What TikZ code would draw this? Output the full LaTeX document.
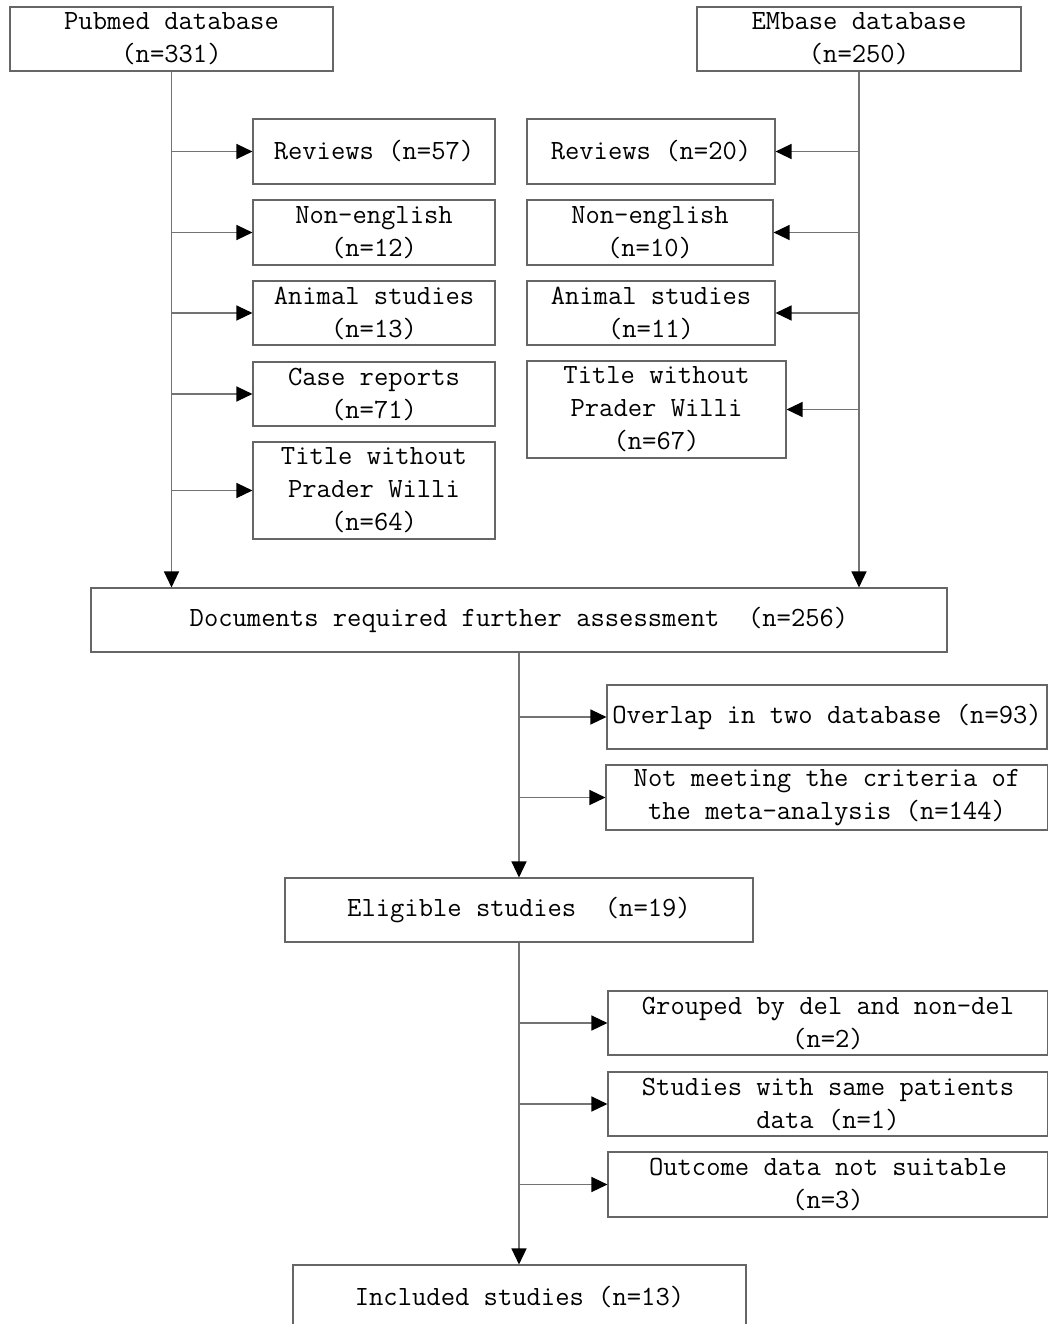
\documentclass[tikz,border=0pt]{standalone}
\usepackage{xcolor}
\usepackage{tikz}
\usetikzlibrary{arrows.meta}

\begin{document}
\begin{tikzpicture}[x=1pt, y=-1pt,
    box/.style={draw=black!60, line width=1.1pt, inner sep=0pt, align=center,
                font=\fontsize{27.8}{33}\selectfont\ttfamily},
    link/.style={draw=black!55, line width=1.3pt},
    arr/.style={link, -{Triangle[length=16pt, width=15pt, color=black]}}]
            \clip (0,0) rectangle (1048,1324);
            % Databases
            \node[box, minimum width=323pt, minimum height=64pt] (pub) at (171.5,39) {Pubmed database\\(n=331)};
            \node[box, minimum width=324pt, minimum height=64pt] (emb) at (859,39) {EMbase database\\(n=250)};
            % Excluded from Pubmed
            \node[box, minimum width=242pt, minimum height=65pt] (lrev) at (374,151.5) {Reviews (n=57)};
            \node[box, minimum width=242pt, minimum height=65pt] (lnon) at (374,232.5) {Non-english\\(n=12)};
            \node[box, minimum width=242pt, minimum height=64pt] (lani) at (374,313) {Animal studies\\(n=13)};
            \node[box, minimum width=242pt, minimum height=64pt] (lcase) at (374,394) {Case reports\\(n=71)};
            \node[box, minimum width=242pt, minimum height=97pt] (ltit) at (374,490.5) {Title without\\Prader Willi\\(n=64)};
            % Excluded from EMbase
            \node[box, minimum width=248pt, minimum height=65pt] (rrev) at (651,151.5) {Reviews (n=20)};
            \node[box, minimum width=246pt, minimum height=65pt] (rnon) at (650,232.5) {Non-english\\(n=10)};
            \node[box, minimum width=248pt, minimum height=64pt] (rani) at (651,313) {Animal studies\\(n=11)};
            \node[box, minimum width=259pt, minimum height=97pt] (rtit) at (656.5,409.5) {Title without\\Prader Willi\\(n=67)};
            % Main flow
            \node[box, minimum width=856pt, minimum height=64pt] (doc) at (519,620) {Documents required further assessment\ \ (n=256)};
            \node[box, minimum width=440pt, minimum height=64pt] (ovl) at (827,717) {Overlap in two database (n=93)};
            \node[box, minimum width=442pt, minimum height=65pt] (crit) at (827,797.5) {Not meeting the criteria of\\the meta-analysis (n=144)};
            \node[box, minimum width=468pt, minimum height=64pt] (elig) at (519,910) {Eligible studies\ \ (n=19)};
            \node[box, minimum width=440pt, minimum height=64pt] (grp) at (828,1023) {Grouped by del and non-del\\(n=2)};
            \node[box, minimum width=440pt, minimum height=64pt] (same) at (828,1104) {Studies with same patients\\data (n=1)};
            \node[box, minimum width=440pt, minimum height=65pt] (outc) at (828,1184.5) {Outcome data not suitable\\(n=3)};
            \node[box, minimum width=453pt, minimum height=64pt] (incl) at (519.5,1297) {Included studies (n=13)};
            % Left branch
            \draw[arr] (pub.south) -- (pub.south |- doc.north);
            \foreach \n in {lrev,lnon,lani,lcase,ltit}
                \draw[arr] (pub.south |- \n.west) -- (\n.west);
            % Right branch
            \draw[arr] (emb.south) -- (emb.south |- doc.north);
            \foreach \n in {rrev,rnon,rani,rtit}
                \draw[arr] (emb.south |- \n.east) -- (\n.east);
            % Centre
            \draw[arr] (doc.south) -- (elig.north);
            \foreach \n in {ovl,crit}
                \draw[arr] (doc.south |- \n.west) -- (\n.west);
            \draw[arr] (elig.south) -- (elig.south |- incl.north);
            \foreach \n in {grp,same,outc}
                \draw[arr] (elig.south |- \n.west) -- (\n.west);
\end{tikzpicture}
\end{document}
